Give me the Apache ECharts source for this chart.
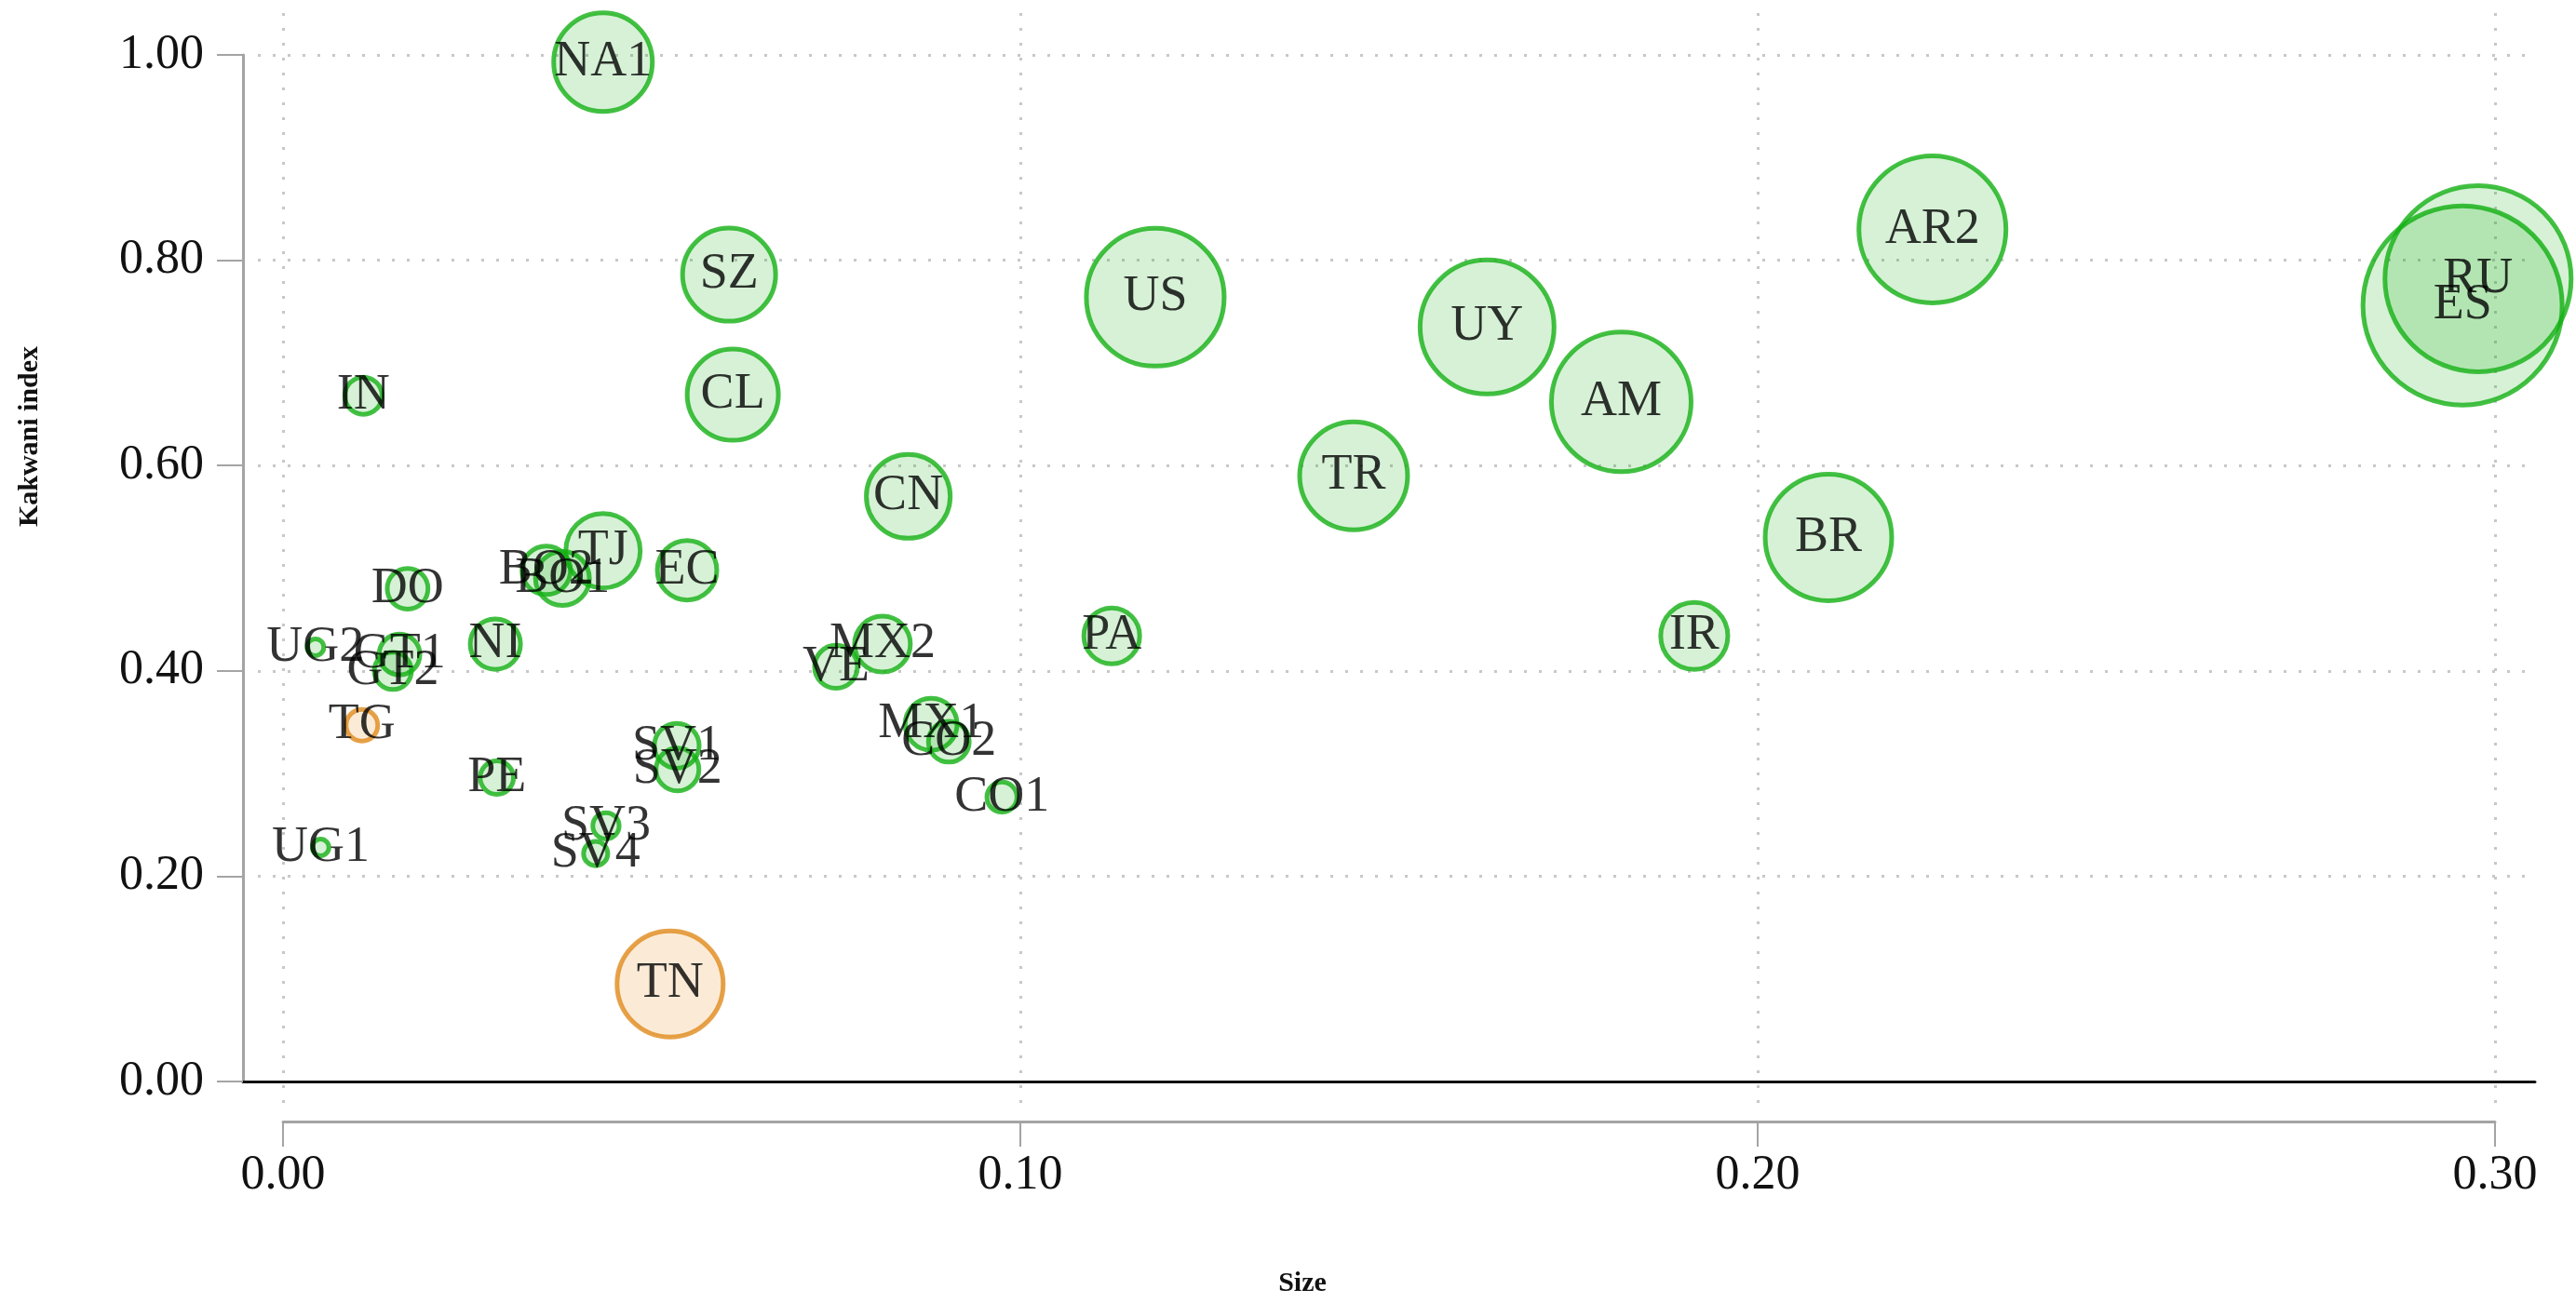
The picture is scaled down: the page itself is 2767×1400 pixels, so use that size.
<!DOCTYPE html>
<html>
<head>
<meta charset="utf-8">
<script src="https://cdn.jsdelivr.net/npm/echarts@6/dist/echarts.min.js"></script>
<style>
  html, body { margin: 0; padding: 0; background: #ffffff; }
  #chart { width: 2767px; height: 1400px; }
</style>
</head>
<body>
<div id="chart"></div>
<script>
// ---- data ----
const names   = ['NA1','SZ','CL','IN','US','UY','AM','AR2','ES','RU','TR','CN','BR','IR','PA',
                 'TJ','EC','BO2','BO1','DO','UG2','GT1','GT2','NI','TG','PE','SV1','SV2','SV3','SV4',
                 'UG1','TN','MX1','CO2','CO1','MX2','VE'];
const sizeX   = [0.0434,0.0605,0.0610,0.0109,0.1183,0.1633,0.1815,0.2237,0.2956,0.2977,0.1452,0.0848,0.2096,0.1914,0.1124,
                 0.0434,0.0548,0.0357,0.0379,0.0169,0.0044,0.0158,0.0149,0.0288,0.0107,0.0290,0.0534,0.0535,0.0438,0.0424,
                 0.0051,0.0525,0.0879,0.0903,0.0975,0.0813,0.0750];
const kakwani = [0.993,0.786,0.669,0.668,0.764,0.735,0.662,0.830,0.756,0.782,0.590,0.570,0.530,0.434,0.434,
                 0.517,0.498,0.498,0.490,0.480,0.423,0.416,0.400,0.426,0.347,0.296,0.327,0.304,0.249,0.222,
                 0.228,0.095,0.348,0.331,0.277,0.426,0.404];
const weight  = [28.1,25.0,24.0,4.0,54.8,51.8,56.3,62.4,114.5,100.0,33.6,20.3,46.2,13.0,9.0,
                 16.0,10.2,6.8,8.4,4.8,0.8,4.8,4.0,7.3,2.9,3.2,5.8,5.3,2.0,1.7,
                 0.8,32.5,7.8,4.8,2.6,9.0,5.3];
const group   = ['g','g','g','g','g','g','g','g','g','g','g','g','g','g','g',
                 'g','g','g','g','g','g','g','g','g','o','g','g','g','g','g',
                 'g','o','g','g','g','g','g'];
const xTicks = [0, 0.1, 0.2, 0.3];
const yTicks = [0, 0.2, 0.4, 0.6, 0.8, 1.0];

// ---- build ----
const FONT = "'Liberation Serif','Times New Roman',serif";
const styles = {
  g: { color: 'rgba(0,170,0,0.2)', borderColor: '#14b014', borderWidth: 5 },
  o: { color: 'rgba(230,130,0,0.2)', borderColor: '#e0891c', borderWidth: 5 }
};
const points = names.map((n, i) => ({
  name: n,
  value: [sizeX[i], kakwani[i], weight[i]],
  itemStyle: styles[group[i]]
}));

const padX = 43 / 7920;
const dotted = { color: '#c8c8c8', width: 3, type: [3, 13] };
const axisGray = '#a4a4a4';

const chart = echarts.init(document.getElementById('chart'), null, { renderer: 'canvas' });
chart.setOption({
  backgroundColor: '#ffffff',
  animation: false,
  grid: [
    { left: 261, width: 2723 - 261, top: 59, height: 1103 },          // data
    { left: 277, width: 2713 - 277, top: 59, height: 1103 },          // horizontal grid lines
    { left: 304, width: 2376, top: 14, height: 1190 - 14 },           // vertical grid lines
    { left: 304, width: 2376, top: 1195, height: 10 }                 // visible x axis
  ],
  xAxis: [
    { gridIndex: 0, type: 'value', min: xTicks[0] - padX, max: xTicks[xTicks.length - 1] + padX,
      axisLine: { show: true, onZero: false, lineStyle: { color: '#111', width: 3 } },
      axisTick: { show: false }, axisLabel: { show: false }, splitLine: { show: false } },
    { gridIndex: 1, type: 'value', show: false, min: 0, max: 1 },
    { gridIndex: 2, type: 'value', min: xTicks[0], max: xTicks[xTicks.length - 1], interval: 0.1,
      axisLine: { show: false }, axisTick: { show: false }, axisLabel: { show: false },
      splitLine: { show: true, lineStyle: dotted } },
    { gridIndex: 3, type: 'value', position: 'bottom', min: xTicks[0], max: xTicks[xTicks.length - 1], interval: 0.1,
      axisLine: { show: true, lineStyle: { color: axisGray, width: 3 } },
      axisTick: { show: true, length: 27, lineStyle: { color: axisGray, width: 2 } },
      axisLabel: { show: true, margin: 32, color: '#111', fontFamily: FONT, fontSize: 52,
                   formatter: v => v.toFixed(2) },
      splitLine: { show: false } }
  ],
  yAxis: [
    { gridIndex: 0, type: 'value', min: yTicks[0], max: yTicks[yTicks.length - 1], interval: 0.2,
      axisLine: { show: true, onZero: false, lineStyle: { color: axisGray, width: 3 } },
      axisTick: { show: true, length: 28, lineStyle: { color: axisGray, width: 2 } },
      axisLabel: { show: true, margin: 42, color: '#111', fontFamily: FONT, fontSize: 52,
                   formatter: v => v.toFixed(2) },
      splitLine: { show: false } },
    { gridIndex: 1, type: 'value', min: yTicks[0], max: yTicks[yTicks.length - 1], interval: 0.2,
      axisLine: { show: false }, axisTick: { show: false }, axisLabel: { show: false },
      splitLine: { show: true, lineStyle: dotted } },
    { gridIndex: 2, type: 'value', show: false, min: 0, max: 1 },
    { gridIndex: 3, type: 'value', show: false, min: 0, max: 1 }
  ],
  series: [{
    type: 'scatter',
    xAxisIndex: 0, yAxisIndex: 0,
    data: points,
    symbol: 'circle',
    symbolSize: v => 20 * Math.sqrt(v[2]),
    label: {
      show: true, position: 'inside', formatter: p => p.name,
      color: '#000', fontFamily: FONT, fontSize: 54
    },
    labelLayout: { hideOverlap: false },
    emphasis: { disabled: true }
  }],
  graphic: [
    { type: 'text', x: 32, y: 469, rotation: Math.PI / 2,
      style: { text: 'Kakwani index', font: "bold 30px 'Liberation Serif', serif", fill: '#111',
               textAlign: 'center', textVerticalAlign: 'middle' } },
    { type: 'text', x: 1399, y: 1379,
      style: { text: 'Size', font: "bold 30px 'Liberation Serif', serif", fill: '#111',
               textAlign: 'center', textVerticalAlign: 'middle' } }
  ]
});
</script>
</body>
</html>
